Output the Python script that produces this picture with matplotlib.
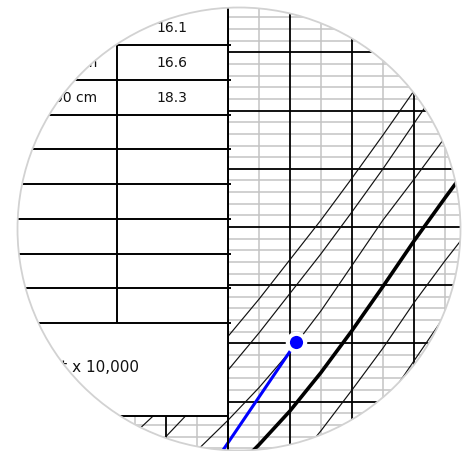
import matplotlib
matplotlib.use('Agg')
import matplotlib.pyplot as plt
from matplotlib.patches import PathPatch, Circle, Rectangle
from matplotlib.path import Path
from matplotlib.transforms import IdentityTransform
import numpy as np

plt.rcParams['font.family'] = ['DejaVu Sans']

nan = np.nan

# percentile curves (age in years)
ages = [2.5, 3.0, 3.5, 4.0, 4.5, 5.0, 5.5, 6.0, 6.5, 7.0, 7.5, 8.0]
p97 = [12.3, 14.8, 17.7, 20.6, 23.8, 27.2, 30.6, 34.2, 37.9, 41.7, 45.6, 49.6]
p90 = [9.2, 12.0, 14.8, 17.7, 20.9, 24.3, 27.7, 31.3, 35.0, 38.9, 42.8, 46.8]
p75 = [5.8, 8.3, 10.8, 13.4, 16.2, 19.3, 22.8, 26.7, 30.6, 34.1, 37.7, 41.2]
p50 = [nan, nan, nan, 8.6, 11.3, 14.2, 17.5, 21.1, 24.9, 28.8, 32.5, 36.1]
p25 = [nan, nan, nan, nan, nan, 9.2, 12.5, 16.0, 19.6, 23.5, 27.1, 30.5]
p10 = [nan, nan, nan, nan, nan, nan, 7.2, 10.9, 14.6, 18.5, 22.4, 26.0]

# patient measurements
visit_age = [3.75, 5.1]
visit_value = [9.5, 20.1]

# table on the left
row_labels = ['Height 90 cm', 'Height 95 cm', 'Height 100 cm']
row_values = ['16.1', '16.6', '18.3']
box_label = 'Count x 10,000'

W, H = 467, 452
fig = plt.figure(figsize=(W / 100, H / 100), dpi=100)
fig.patch.set_facecolor('white')

# ---- chart grid ----
ax = fig.add_axes([0, 0, 1, 1])
ax.set_xlim(0.3226, 7.8548)
ax.set_ylim(10.756, 49.588)
ax.set_axis_off()

gray = '#c3c3c3'
ax.vlines(np.arange(0.5, 8, 1.0), 0, 60, color=gray, lw=1.1, zorder=1)
ax.hlines([v for v in range(11, 50) if v % 5], 0, 9, color=gray, lw=1.1, zorder=1)
ax.vlines(np.arange(1, 8), 0, 60, color='black', lw=1.3, zorder=2)
ax.hlines(np.arange(15, 50, 5), 0, 9, color='black', lw=1.3, zorder=2)

for curve in [p97, p90, p75, p25, p10]:
    ax.plot(ages, curve, color='#111111', lw=0.85, zorder=3)
ax.plot(ages, p50, color='black', lw=2.6, zorder=4)

ax.plot(visit_age, visit_value, color='#0000ff', lw=2.2, zorder=5)
ax.plot(visit_age[-1:], visit_value[-1:], 'o', ms=12.5, mfc='#0000ff',
        mec='white', mew=3, zorder=6)

# ---- table overlay (pixel coordinates) ----
tax = fig.add_axes([0, 0, 1, 1], zorder=3)
tax.set_xlim(0, W)
tax.set_ylim(H, 0)
tax.set_axis_off()

col_split, table_right, table_bottom = 117, 228, 417
row_top, row_h, n_rows = 46, 34.75, 9
tax.add_patch(Rectangle((0, 0), table_right, table_bottom, facecolor='white',
                        edgecolor='none'))
row_lines = row_top + row_h * np.arange(n_rows)
tax.hlines(row_lines, 0, table_right + 3, color='black', lw=1.4)
tax.hlines(table_bottom, 0, table_right, color='black', lw=1.4)
tax.vlines(col_split, 0, row_lines[-1], color='black', lw=1.4)
tax.vlines(table_right, 0, H, color='black', lw=1.4)

for i, (lab, val) in enumerate(zip(row_labels, row_values)):
    yc = row_top + row_h * (i - 0.5)
    tax.text(97, yc, lab, ha='right', va='center', fontsize=10, color='#111111')
    tax.text(172, yc - 0.5, val, ha='center', va='center', fontsize=10, color='#111111')
tax.text(139, 368, box_label, ha='right', va='center', fontsize=11, color='#111111')

# ---- circular magnifier mask ----
cx, cy, r = 239, H - 230, 221.5
t = np.linspace(0, -2 * np.pi, 361)
ring = np.column_stack([cx + r * np.cos(t), cy + r * np.sin(t)])
outer = np.array([[-5, -5], [W + 5, -5], [W + 5, H + 5], [-5, H + 5], [-5, -5]])
verts = np.vstack([outer, ring])
codes = ([Path.MOVETO] + [Path.LINETO] * 3 + [Path.CLOSEPOLY] +
         [Path.MOVETO] + [Path.LINETO] * (len(ring) - 2) + [Path.CLOSEPOLY])
fig.add_artist(PathPatch(Path(verts, codes), facecolor='white', edgecolor='none',
                         transform=IdentityTransform(), zorder=10))
fig.add_artist(Circle((cx, cy), r, fill=False, edgecolor='#d2d2d2', lw=1.3,
                      transform=IdentityTransform(), zorder=11))

plt.savefig('out.png', dpi=100)
